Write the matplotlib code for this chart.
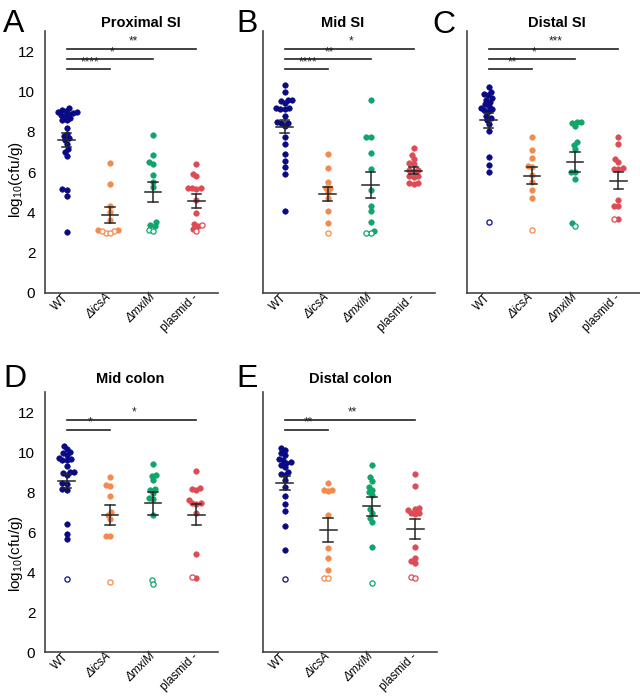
import numpy as np
import matplotlib
matplotlib.use('Agg')
import matplotlib.pyplot as plt

plt.rcParams['font.family'] = ['Liberation Sans', 'DejaVu Sans']
plt.rcParams['mathtext.fontset'] = 'custom'
plt.rcParams['mathtext.rm'] = 'Liberation Sans'
plt.rcParams['mathtext.it'] = 'Liberation Sans:italic'
plt.rcParams['mathtext.bf'] = 'Liberation Sans:bold'

# ---------------- data ----------------
groups = ['WT', '\u0394icsA', '\u0394mxiM', 'plasmid -']
colors = ['#0a0a85', '#f28b4f', '#10a56a', '#dd4b55']
panel_letters = ['A', 'B', 'C', 'D', 'E']
panel_titles = ['Proximal SI', 'Mid SI', 'Distal SI', 'Mid colon', 'Distal colon']
ylabel_text = 'log$_{10}$(cfu/g)'
yticks = [0, 2, 4, 6, 8, 10, 12]

# filled points (above detection) per group
proximal_si_filled = [
    [9.2, 9.1, 9.05, 9.0, 9.0, 8.95, 8.9, 8.85, 8.8, 8.7, 8.6, 8.6, 8.2, 7.9, 7.8, 7.7, 7.6, 7.4, 7.15, 7.0, 6.8, 5.15, 5.1, 4.8, 3.05],
    [6.45, 5.4, 4.3, 4.0, 3.6, 3.15, 3.15],
    [7.85, 6.85, 6.5, 6.4, 5.85, 5.5, 5.25, 3.5, 3.35, 3.3],
    [6.4, 5.9, 5.8, 5.2, 5.2, 5.15, 5.2, 4.6, 3.95, 3.4, 3.3, 3.2],
]
proximal_si_open = [[], [3.1, 3.0, 3.1, 3.0], [3.15, 3.1], [3.35, 3.1]]
proximal_si_mean = [7.6, 3.87, 5.02, 4.57]
proximal_si_sem = [0.36, 0.38, 0.48, 0.33]
proximal_si_sig = [(1, '****'), (2, '*'), (3, '**')]

mid_si_filled = [
    [10.3, 9.95, 9.6, 9.6, 9.55, 9.45, 9.2, 9.2, 9.15, 9.15, 8.8, 8.5, 8.45, 8.45, 8.3, 7.75, 7.4, 6.9, 6.55, 6.25, 5.9, 4.05],
    [6.9, 6.2, 5.5, 5.2, 5.2, 5.0, 4.7, 4.05, 3.45],
    [9.6, 7.75, 7.75, 6.95, 6.15, 5.1, 4.3, 4.05, 3.5, 3.1],
    [7.2, 6.85, 6.65, 6.45, 6.4, 6.1, 6.1, 6.05, 5.8, 5.8, 5.75, 5.45, 5.4, 5.45],
]
mid_si_open = [[], [3.0], [3.0, 3.0], []]
mid_si_mean = [8.26, 4.9, 5.37, 6.07]
mid_si_sem = [0.30, 0.35, 0.64, 0.18]
mid_si_sig = [(1, '****'), (2, '**'), (3, '*')]

distal_si_filled = [
    [10.2, 9.95, 9.85, 9.8, 9.7, 9.6, 9.5, 9.4, 9.3, 9.2, 9.15, 9.1, 9.05, 8.7, 8.6, 8.8, 8.4, 8.05, 6.75, 6.35, 6.0],
    [7.75, 7.1, 6.7, 6.3, 6.25, 5.85, 5.5, 5.1, 4.7],
    [8.5, 8.45, 8.5, 8.3, 7.5, 7.35, 7.15, 6.0, 6.0, 5.65, 3.45],
    [7.75, 7.4, 6.65, 6.5, 6.2, 6.15, 6.15, 4.6, 4.3, 4.3, 3.65],
]
distal_si_open = [[3.5], [3.15], [3.3], [3.65]]
distal_si_mean = [8.58, 5.83, 6.48, 5.58]
distal_si_sem = [0.37, 0.41, 0.50, 0.42]
distal_si_sig = [(1, '**'), (2, '*'), (3, '***')]

mid_colon_filled = [
    [10.3, 10.15, 10.0, 9.95, 9.85, 9.7, 9.65, 9.6, 9.6, 9.3, 9.0, 9.0, 8.95, 8.85, 8.4, 8.45, 8.15, 8.1, 6.4, 5.9, 5.65],
    [8.75, 8.35, 8.3, 7.8, 7.0, 6.85, 6.65, 5.8, 5.8],
    [9.4, 8.85, 8.8, 8.6, 8.15, 8.1, 7.95, 7.7, 7.65, 6.85],
    [9.05, 8.15, 8.1, 8.2, 7.6, 7.45, 7.45, 7.4, 6.95, 4.9, 3.7],
]
mid_colon_open = [[3.65], [3.5], [3.6, 3.4], [3.75]]
mid_colon_mean = [8.55, 6.87, 7.43, 6.87]
mid_colon_sem = [0.35, 0.50, 0.56, 0.52]
mid_colon_sig = [(1, '*'), (3, '*')]

distal_colon_filled = [
    [10.2, 10.1, 9.95, 9.85, 9.65, 9.6, 9.5, 9.45, 9.35, 9.25, 9.0, 8.9, 8.85, 8.6, 8.25, 7.8, 7.4, 7.05, 6.3, 5.1],
    [8.45, 8.1, 8.1, 8.05, 6.85, 5.2, 4.7, 4.1],
    [9.35, 8.75, 8.55, 8.25, 8.1, 8.0, 7.85, 7.15, 6.95, 6.7, 6.5, 5.25],
    [8.9, 8.3, 7.2, 7.15, 7.1, 6.95, 6.95, 6.9, 5.25, 4.7, 4.55, 4.45],
]
distal_colon_open = [[3.65], [3.7, 3.7], [3.45], [3.75, 3.7]]
distal_colon_mean = [8.45, 6.1, 7.28, 6.15]
distal_colon_sem = [0.33, 0.62, 0.47, 0.50]
distal_colon_sig = [(1, '**'), (3, '**')]

panels = [
    (proximal_si_filled, proximal_si_open, proximal_si_mean, proximal_si_sem, proximal_si_sig),
    (mid_si_filled, mid_si_open, mid_si_mean, mid_si_sem, mid_si_sig),
    (distal_si_filled, distal_si_open, distal_si_mean, distal_si_sem, distal_si_sig),
    (mid_colon_filled, mid_colon_open, mid_colon_mean, mid_colon_sem, mid_colon_sig),
    (distal_colon_filled, distal_colon_open, distal_colon_mean, distal_colon_sem, distal_colon_sig),
]

# ---------------- layout ----------------
W, H = 640, 696
fig = plt.figure(figsize=(W / 100, H / 100), dpi=100)
boxes = [(45, 31, 218, 293), (263, 31, 435, 293), (467, 31, 640, 293),
         (45, 392, 218, 652), (263, 392, 437, 652)]
letter_pos = [(3, 32), (236, 32), (432, 33), (3, 387), (236, 387)]
title_pos = [(141, 27), (343, 27), (557, 27), (130, 383), (350, 383)]
ylabel_pos = [(16, 179), None, None, (16, 553), None]

YMAX = 13.0
DOT_D = 4.3  # px


def swarm(values, xpx, ypx):
    vals = np.asarray(values, dtype=float)
    order = np.argsort(vals)
    placed = []
    offs = np.zeros(len(vals))
    for i in order:
        y = vals[i] * ypx
        cands = [0.0]
        for (px, py) in placed:
            dy = abs(py - y)
            if dy < DOT_D:
                dx = np.sqrt(DOT_D ** 2 - dy ** 2)
                cands += [px + dx, px - dx]
        cands = sorted(cands, key=lambda c: (abs(c), c))
        for c in cands:
            ok = all((c - px) ** 2 + (y - py) ** 2 >= DOT_D ** 2 - 1e-6 for px, py in placed)
            if ok:
                break
        placed.append((c, y))
        offs[i] = c / xpx
    return offs


for k, (filled, opened, means, sems, sigs) in enumerate(panels):
    l, t, r, b = boxes[k]
    ax = fig.add_axes([l / W, 1 - b / H, (r - l) / W, (b - t) / H])
    ax.set_xlim(-0.5, 3.5)
    ax.set_ylim(0, YMAX)
    xpx = (r - l) / 4.0
    ypx = (b - t) / YMAX
    for g in range(4):
        allv = list(filled[g]) + list(opened[g])
        offs = swarm(allv, xpx, ypx)
        nf = len(filled[g])
        xs = g + offs
        ax.scatter(xs[:nf], filled[g], s=16, color=colors[g], edgecolors=colors[g],
                   linewidths=0.4, zorder=3, clip_on=False)
        if len(opened[g]):
            ax.scatter(xs[nf:], opened[g], s=14, facecolors='white', edgecolors=colors[g],
                       linewidths=0.9, zorder=3, clip_on=False)
        m, s = means[g], sems[g]
        ec = '#262626'
        ax.plot([g - 0.19, g + 0.19], [m, m], color=ec, lw=1.1, zorder=4)
        ax.plot([g - 0.11, g + 0.11], [m + s, m + s], color=ec, lw=1.1, zorder=4)
        ax.plot([g - 0.11, g + 0.11], [m - s, m - s], color=ec, lw=1.1, zorder=4)
        ax.plot([g, g], [m - s, m + s], color=ec, lw=1.1, zorder=4)
    for lev, (gi, lab) in enumerate(sigs):
        yy = 11.1 + 0.5 * lev
        ax.plot([0, gi], [yy, yy], color='#222222', lw=1.2, clip_on=False)
        ax.text(gi / 2.0 + 0.05, yy + 0.06, lab, ha='center', va='bottom',
                fontsize=8.5, color='#222222')
    for sp in ['top', 'right']:
        ax.spines[sp].set_visible(False)
    for sp in ['left', 'bottom']:
        ax.spines[sp].set_color('#444444')
        ax.spines[sp].set_linewidth(1.2)
    ax.set_xticks(range(4))
    ax.set_xticklabels(groups, rotation=45, ha='right', va='center',
                       rotation_mode='anchor', fontsize=8.5)
    for lbl in ax.get_xticklabels()[1:3]:
        lbl.set_style('italic')
    ax.tick_params(axis='x', length=0, pad=2)
    if ylabel_pos[k] is not None:
        ax.set_yticks(yticks)
        ax.tick_params(axis='y', length=0, pad=7, labelsize=11)
    else:
        ax.set_yticks([])
    fig.text(letter_pos[k][0] / W, 1 - letter_pos[k][1] / H, panel_letters[k],
             fontsize=23, ha='left', va='baseline')
    fig.text(title_pos[k][0] / W, 1 - title_pos[k][1] / H, panel_titles[k],
             fontsize=10.5, fontweight='bold', ha='center', va='baseline')
    if ylabel_pos[k] is not None:
        fig.text(ylabel_pos[k][0] / W, 1 - ylabel_pos[k][1] / H, ylabel_text,
                 fontsize=11, rotation=90, ha='center', va='center')

fig.savefig('out.png', dpi=100)
